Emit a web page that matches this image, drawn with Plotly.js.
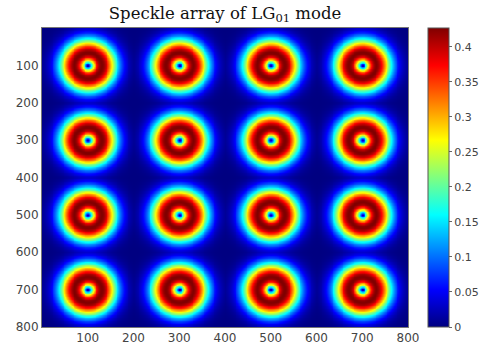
<!DOCTYPE html>
<html>
<head>
<meta charset="utf-8">
<script src="https://cdn.plot.ly/plotly-3.0.1.min.js"></script>
<style>html,body{margin:0;padding:0;background:#fff;}#chart{width:483px;height:347px;}</style>
</head>
<body>
<div id="chart"></div>
<script>
// Beam centres (pixel units)
var centersX = [100, 300, 500, 700];
var centersY = [100, 300, 500, 700];
// Ring profile
var colorMax = 0.427;      // top of the colour bar
var ringPeak = 0.427;      // ring crest
var ringRadius = 30;       // radius of the crest, x units
var yStretch = 1.15;       // ring is taller in y units than in x units
// Axis extent and tick labels
var extent = [0, 800];
var tickVals = [100, 200, 300, 400, 500, 600, 700, 800];
var cbTicks = [0, 0.05, 0.1, 0.15, 0.2, 0.25, 0.3, 0.35, 0.4];

// sampling grid
var step = 2;
var xs = [], ys = [];
for (var v = extent[0] + step / 2; v < extent[1]; v += step) { xs.push(v); ys.push(v); }

function nearest(arr, v) {
  var best = arr[0];
  for (var i = 1; i < arr.length; i++) if (Math.abs(arr[i] - v) < Math.abs(best - v)) best = arr[i];
  return best;
}
// LG01 field-amplitude donut
var z = ys.map(function (y) {
  var cy = nearest(centersY, y);
  return xs.map(function (x) {
    var cx = nearest(centersX, x);
    var dx = x - cx, dy = (y - cy) / yStretch;
    var s = Math.sqrt(dx * dx + dy * dy) / ringRadius;
    return ringPeak * s * Math.exp((1 - s * s) / 2);
  });
});

var jet = [
  [0, 'rgb(0,0,128)'],
  [0.125, 'rgb(0,0,255)'],
  [0.375, 'rgb(0,255,255)'],
  [0.625, 'rgb(255,255,0)'],
  [0.875, 'rgb(255,0,0)'],
  [1, 'rgb(128,0,0)']
];

var trace = {
  type: 'heatmap',
  x: xs, y: ys, z: z,
  zmin: 0, zmax: colorMax,
  colorscale: jet,
  zsmooth: 'best',
  hoverinfo: 'skip',
  colorbar: {
    x: 1.055, xanchor: 'left', xpad: 0,
    y: 0, yanchor: 'bottom', len: 1, lenmode: 'fraction', ypad: 0,
    thickness: 21, thicknessmode: 'pixels',
    outlinewidth: 1, outlinecolor: '#555',
    tickvals: cbTicks, ticktext: cbTicks.map(String),
    ticks: 'outside', ticklen: 3, tickcolor: '#666',
    tickfont: {family: 'DejaVu Sans', size: 11, color: '#444'}
  }
};

var axisFont = {family: 'DejaVu Sans', size: 12, color: '#444'};
var layout = {
  width: 483, height: 347,
  margin: {l: 42, r: 75, t: 28, b: 20, pad: 0, autoexpand: false},
  paper_bgcolor: '#fff', plot_bgcolor: '#fff',
  title: {
    text: 'Speckle array of LG<sub>01</sub> mode',
    font: {family: 'DejaVu Serif', size: 16.5, color: '#111'},
    x: 0.5, xref: 'paper', xanchor: 'center', y: 0.962, yanchor: 'middle'
  },
  xaxis: {
    range: extent, tickvals: tickVals, ticktext: tickVals.map(String),
    showgrid: false, zeroline: false, showline: true, linecolor: '#777', linewidth: 1, mirror: true,
    ticks: '', tickfont: axisFont
  },
  yaxis: {
    range: [extent[1], extent[0]], tickvals: tickVals, ticktext: tickVals.map(String),
    showgrid: false, zeroline: false, showline: true, linecolor: '#777', linewidth: 1, mirror: true,
    ticks: '', tickfont: axisFont
  }
};

Plotly.newPlot('chart', [trace], layout, {staticPlot: true, displayModeBar: false});
</script>
</body>
</html>
